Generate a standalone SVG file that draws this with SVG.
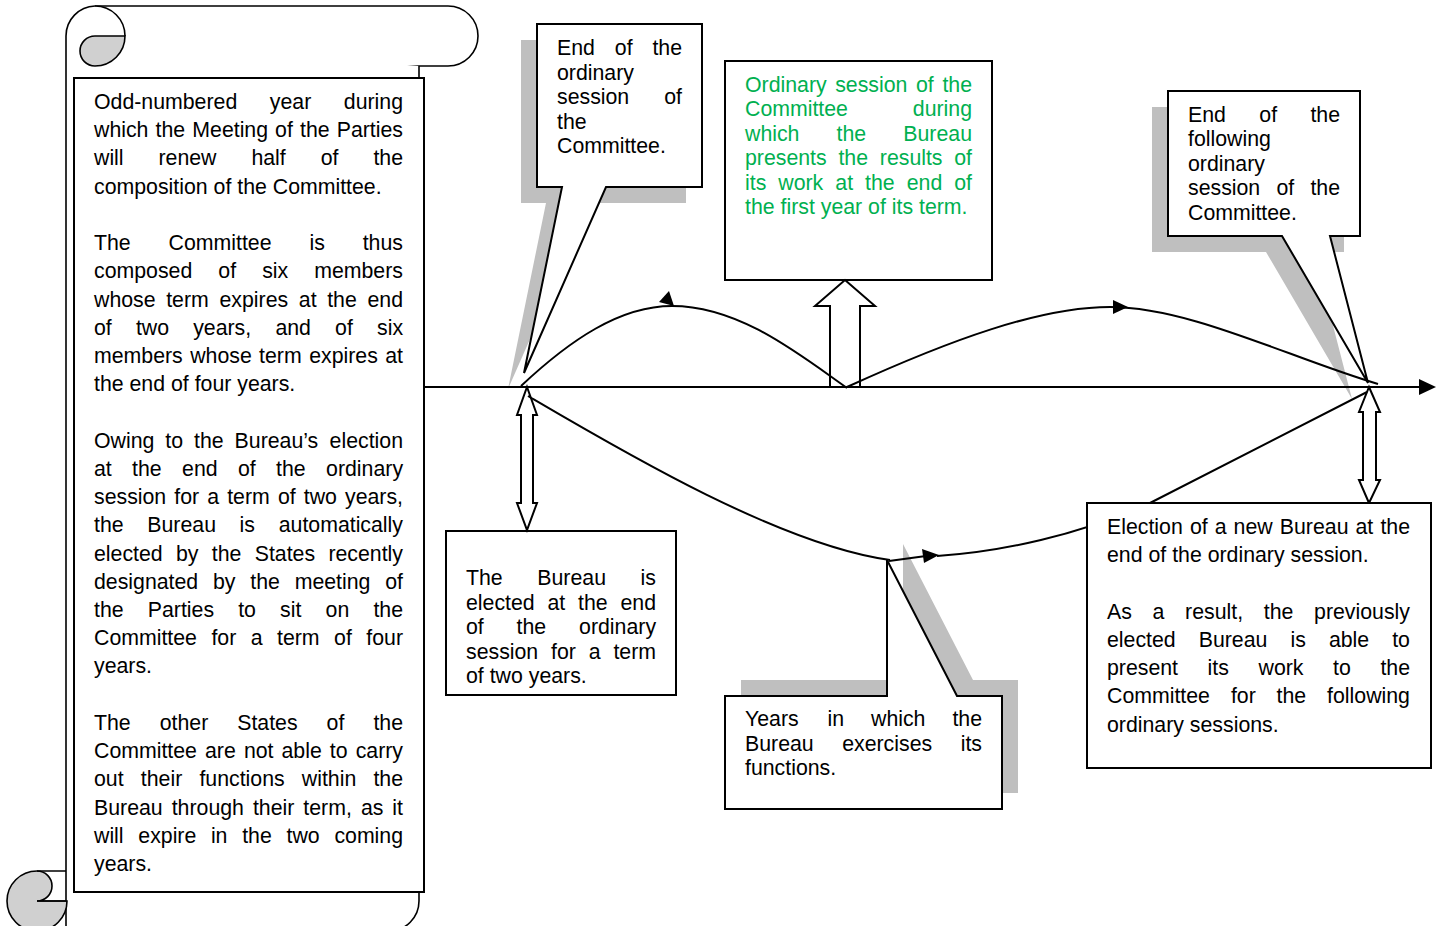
<svg xmlns="http://www.w3.org/2000/svg" width="1443" height="926" viewBox="0 0 1443 926">
<style>
.t{font-family:"Liberation Sans",Arial,sans-serif;font-size:21.3px;fill:#000}
.g{fill:#00B050}
.box{fill:#fff;stroke:#000;stroke-width:2}
.sh{fill:#BFBFBF;stroke:none}
.ln{fill:none;stroke:#000;stroke-width:2}
.sc{fill:#fff;stroke:#000;stroke-width:1.6}
.gr{fill:#D0D0D0;stroke:#000;stroke-width:1.6}
.ar{fill:#000;stroke:none}
.blk{fill:#fff;stroke:#000;stroke-width:2;stroke-linejoin:miter}
</style>
<rect width="1443" height="926" fill="#fff"/>

<g id="scroll">
  <path class="sc" d="M66,36 A30,30 0 0 1 95,6 H448 A30,30 0 0 1 448,66 H95"/>
  <path class="sc" d="M66,36 V931 H389 A30,30 0 0 0 419,901 V66"/>
  <path class="sc" d="M95,6 A30,30 0 0 1 125,36"/>
  <path class="gr" d="M125,36 H95 A15,15 0 0 0 95,66 A30,30 0 0 0 125,36 Z"/>
  <path class="gr" d="M37,871 A30,30 0 1 0 67,901 H37 A15,15 0 0 0 37,871 Z"/>
  <path class="ln" style="stroke-width:1.6" d="M37,871 H66 M37,901 H66"/>
</g>

<g id="scroll-text">
  <rect class="box" x="74" y="78" width="350" height="814"/>
  <text class="t" y="109"><tspan x="94">Odd-numbered</tspan><tspan x="269.8">year</tspan><tspan x="343.8">during</tspan></text>
  <text class="t" y="137.2"><tspan x="94">which</tspan><tspan x="155.5">the</tspan><tspan x="192.3">Meeting</tspan><tspan x="275.1">of</tspan><tspan x="300">the</tspan><tspan x="336.7">Parties</tspan></text>
  <text class="t" y="165.4"><tspan x="94">will</tspan><tspan x="158.5">renew</tspan><tspan x="251.4">half</tspan><tspan x="320.7">of</tspan><tspan x="373.4">the</tspan></text>
  <text class="t" x="94" y="193.7">composition of the Committee.</text>
  <text class="t" y="250.1"><tspan x="94">The</tspan><tspan x="168.6">Committee</tspan><tspan x="309.5">is</tspan><tspan x="362.7">thus</tspan></text>
  <text class="t" y="278.3"><tspan x="94">composed</tspan><tspan x="218.3">of</tspan><tspan x="262.2">six</tspan><tspan x="314.2">members</tspan></text>
  <text class="t" y="306.5"><tspan x="94">whose</tspan><tspan x="166.2">term</tspan><tspan x="219.5">expires</tspan><tspan x="298.8">at</tspan><tspan x="327.2">the</tspan><tspan x="367.5">end</tspan></text>
  <text class="t" y="334.8"><tspan x="94">of</tspan><tspan x="135.9">two</tspan><tspan x="193.2">years,</tspan><tspan x="275.4">and</tspan><tspan x="335.1">of</tspan><tspan x="377">six</tspan></text>
  <text class="t" y="363"><tspan x="94">members</tspan><tspan x="190.2">whose</tspan><tspan x="259.1">term</tspan><tspan x="309.2">expires</tspan><tspan x="385.2">at</tspan></text>
  <text class="t" x="94" y="391.2">the end of four years.</text>
  <text class="t" y="447.7"><tspan x="94">Owing</tspan><tspan x="165.3">to</tspan><tspan x="194">the</tspan><tspan x="234.6">Bureau’s</tspan><tspan x="329.6">election</tspan></text>
  <text class="t" y="475.9"><tspan x="94">at</tspan><tspan x="132.1">the</tspan><tspan x="182.1">end</tspan><tspan x="238">of</tspan><tspan x="276.1">the</tspan><tspan x="326.1">ordinary</tspan></text>
  <text class="t" y="504.1"><tspan x="94">session</tspan><tspan x="174.3">for</tspan><tspan x="207.3">a</tspan><tspan x="227.2">term</tspan><tspan x="277.9">of</tspan><tspan x="303.8">two</tspan><tspan x="345">years,</tspan></text>
  <text class="t" y="532.3"><tspan x="94">the</tspan><tspan x="147.3">Bureau</tspan><tspan x="239.6">is</tspan><tspan x="278.7">automatically</tspan></text>
  <text class="t" y="560.5"><tspan x="94">elected</tspan><tspan x="176">by</tspan><tspan x="211.8">the</tspan><tspan x="254.7">States</tspan><tspan x="328.4">recently</tspan></text>
  <text class="t" y="588.8"><tspan x="94">designated</tspan><tspan x="213">by</tspan><tspan x="250.3">the</tspan><tspan x="294.7">meeting</tspan><tspan x="385.2">of</tspan></text>
  <text class="t" y="617"><tspan x="94">the</tspan><tspan x="147.8">Parties</tspan><tspan x="238.2">to</tspan><tspan x="280.1">sit</tspan><tspan x="325.6">on</tspan><tspan x="373.4">the</tspan></text>
  <text class="t" y="645.2"><tspan x="94">Committee</tspan><tspan x="211.4">for</tspan><tspan x="250.7">a</tspan><tspan x="277">term</tspan><tspan x="334.1">of</tspan><tspan x="366.3">four</tspan></text>
  <text class="t" x="94" y="673.4">years.</text>
  <text class="t" y="729.9"><tspan x="94">The</tspan><tspan x="159.7">other</tspan><tspan x="237.2">States</tspan><tspan x="326.6">of</tspan><tspan x="373.4">the</tspan></text>
  <text class="t" y="758.1"><tspan x="94">Committee</tspan><tspan x="205">are</tspan><tspan x="243.9">not</tspan><tspan x="281.5">able</tspan><tspan x="329.8">to</tspan><tspan x="355.7">carry</tspan></text>
  <text class="t" y="786.3"><tspan x="94">out</tspan><tspan x="140.8">their</tspan><tspan x="199.4">functions</tspan><tspan x="301.8">within</tspan><tspan x="373.4">the</tspan></text>
  <text class="t" y="814.6"><tspan x="94">Bureau</tspan><tspan x="171.7">through</tspan><tspan x="252.9">their</tspan><tspan x="303.3">term,</tspan><tspan x="360.9">as</tspan><tspan x="392.3">it</tspan></text>
  <text class="t" y="842.8"><tspan x="94">will</tspan><tspan x="138.3">expire</tspan><tspan x="210.9">in</tspan><tspan x="242.2">the</tspan><tspan x="286.5">two</tspan><tspan x="334.4">coming</tspan></text>
  <text class="t" x="94" y="871">years.</text>
</g>

<g id="shadows">
  <path class="sh" d="M521,40 H686 V203 H590 L508,389 L546,203 H521 Z"/>
  <path class="sh" d="M1152,107 H1344 V252 H1314 L1352,399 L1266,252 H1152 Z"/>
  <path class="sh" d="M741,680 H903 V544 L973,680 H1018 V793 H741 Z"/>
</g>

<g id="axis">
  <path class="ln" d="M424,387 H1421"/>
  <polygon class="ar" points="1419,379 1436,387 1419,395"/>
</g>

<g id="callout-end-session">
  <path class="box" d="M537,24 H702 V187 H606 L524,373 L562,187 H537 Z"/>
  <text class="t" y="55"><tspan x="557">End</tspan><tspan x="614.8">of</tspan><tspan x="652.4">the</tspan></text>
  <text class="t" x="557" y="79.5">ordinary</text>
  <text class="t" y="104"><tspan x="557">session</tspan><tspan x="664.2">of</tspan></text>
  <text class="t" x="557" y="128.5">the</text>
  <text class="t" x="557" y="153">Committee.</text>
</g>

<g id="callout-end-following">
  <path class="box" d="M1168,91 H1360 V236 H1330 L1368,383 L1282,236 H1168 Z"/>
  <text class="t" y="121.5"><tspan x="1188">End</tspan><tspan x="1259.3">of</tspan><tspan x="1310.4">the</tspan></text>
  <text class="t" x="1188" y="146">following</text>
  <text class="t" x="1188" y="170.5">ordinary</text>
  <text class="t" y="195"><tspan x="1188">session</tspan><tspan x="1276.4">of</tspan><tspan x="1310.4">the</tspan></text>
  <text class="t" x="1188" y="219.5">Committee.</text>
</g>

<g id="ordinary-session">
  <rect class="box" x="725" y="61" width="267" height="219"/>
  <text class="t g" y="91.7"><tspan x="745">Ordinary</tspan><tspan x="835.2">session</tspan><tspan x="916">of</tspan><tspan x="942.4">the</tspan></text>
  <text class="t g" y="116.2"><tspan x="745">Committee</tspan><tspan x="912.8">during</tspan></text>
  <text class="t g" y="140.7"><tspan x="745">which</tspan><tspan x="836.6">the</tspan><tspan x="903.3">Bureau</tspan></text>
  <text class="t g" y="165.2"><tspan x="745">presents</tspan><tspan x="838.4">the</tspan><tspan x="879.8">results</tspan><tspan x="954.2">of</tspan></text>
  <text class="t g" y="189.7"><tspan x="745">its</tspan><tspan x="778.3">work</tspan><tspan x="835.3">at</tspan><tspan x="865.1">the</tspan><tspan x="906.7">end</tspan><tspan x="954.2">of</tspan></text>
  <text class="t g" x="745" y="214.2">the first year of its term.</text>
</g>

<g id="bureau-elected">
  <rect class="box" x="446" y="531" width="230" height="164"/>
  <text class="t" y="585"><tspan x="466">The</tspan><tspan x="537.3">Bureau</tspan><tspan x="640.6">is</tspan></text>
  <text class="t" y="609.5"><tspan x="466">elected</tspan><tspan x="547.5">at</tspan><tspan x="578.1">the</tspan><tspan x="620.5">end</tspan></text>
  <text class="t" y="634"><tspan x="466">of</tspan><tspan x="516.6">the</tspan><tspan x="579.1">ordinary</tspan></text>
  <text class="t" y="658.5"><tspan x="466">session</tspan><tspan x="551">for</tspan><tspan x="588.7">a</tspan><tspan x="613.4">term</tspan></text>
  <text class="t" x="466" y="683">of two years.</text>
</g>

<g id="connectors">
  <polygon class="blk" points="845,280 875,306 860,306 860,387 830,387 830,306 815,306"/>
  <polygon class="blk" points="527,387 537,415 533,415 533,503 537,503 527,530 517,503 521,503 521,415 517,415"/>
  <polygon class="blk" points="1369,387 1380,412 1376,412 1376,480 1380,480 1369,503 1359,480 1363,480 1363,412 1359,412"/>
  <path class="ln" d="M521,386 C570,340 620,306 672,306 C740,306 800,355 847,388"/>
  <polygon class="ar" points="669,291 659,302 674,306"/>
  <path class="ln" d="M847,387 C950,340 1040,307 1110,307 C1190,307 1290,358 1378,384"/>
  <polygon class="ar" points="1113,300 1128,307 1113,314"/>
  <path class="ln" d="M528,396 C620,450 780,545 890,560"/>
  <path class="ln" d="M889,561 L926,556"/>
  <polygon class="ar" points="922,549 939,555 924,563"/>
  <path class="ln" d="M937,556 C1000,552 1080,535 1150,503 L1367,392"/>
</g>

<g id="callout-years">
  <path class="box" d="M725,696 H887 V560 L957,696 H1002 V809 H725 Z"/>
  <text class="t" y="726"><tspan x="745">Years</tspan><tspan x="827.6">in</tspan><tspan x="871">which</tspan><tspan x="952.4">the</tspan></text>
  <text class="t" y="750.5"><tspan x="745">Bureau</tspan><tspan x="842.2">exercises</tspan><tspan x="960.7">its</tspan></text>
  <text class="t" x="745" y="775">functions.</text>
</g>

<g id="election">
  <rect class="box" x="1087" y="503" width="344" height="265"/>
  <text class="t" y="534"><tspan x="1107">Election</tspan><tspan x="1189.9">of</tspan><tspan x="1214.7">a</tspan><tspan x="1233.6">new</tspan><tspan x="1279.8">Bureau</tspan><tspan x="1355.5">at</tspan><tspan x="1380.4">the</tspan></text>
  <text class="t" x="1107" y="562.2">end of the ordinary session.</text>
  <text class="t" y="618.7"><tspan x="1107">As</tspan><tspan x="1152.6">a</tspan><tspan x="1185.1">result,</tspan><tspan x="1263.8">the</tspan><tspan x="1314.1">previously</tspan></text>
  <text class="t" y="646.9"><tspan x="1107">elected</tspan><tspan x="1198.7">Bureau</tspan><tspan x="1290.5">is</tspan><tspan x="1328.9">able</tspan><tspan x="1392.2">to</tspan></text>
  <text class="t" y="675.1"><tspan x="1107">present</tspan><tspan x="1207.6">its</tspan><tspan x="1258.5">work</tspan><tspan x="1333">to</tspan><tspan x="1380.4">the</tspan></text>
  <text class="t" y="703.4"><tspan x="1107">Committee</tspan><tspan x="1230.9">for</tspan><tspan x="1276.6">the</tspan><tspan x="1327.1">following</tspan></text>
  <text class="t" x="1107" y="731.6">ordinary sessions.</text>
</g>
</svg>
